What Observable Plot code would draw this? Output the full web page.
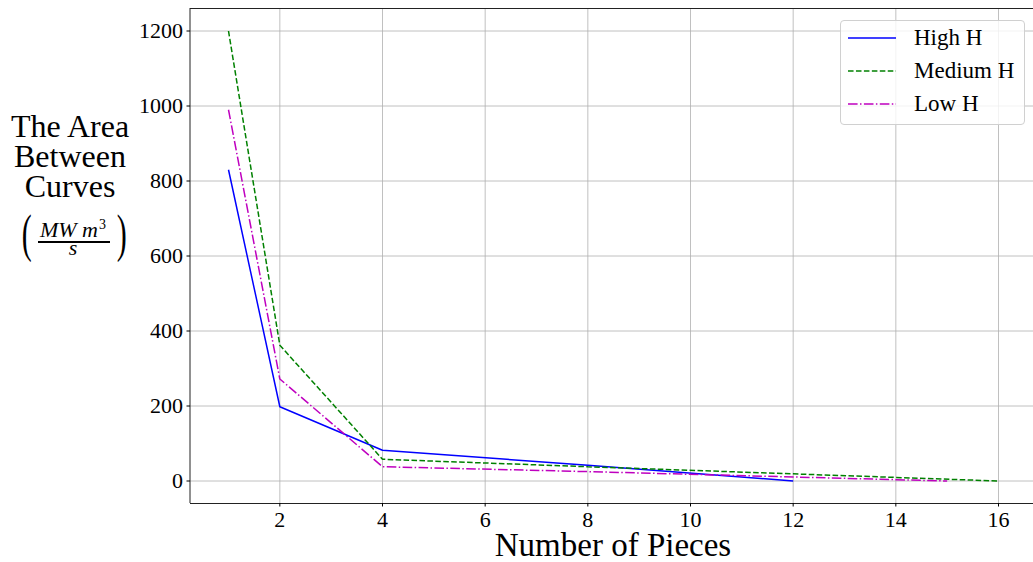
<!DOCTYPE html>
<html>
<head>
<meta charset="utf-8">
<script src="https://cdn.jsdelivr.net/npm/d3@7"></script>
<script src="https://cdn.jsdelivr.net/npm/@observablehq/plot@0.6"></script>
<style>
  html, body { margin: 0; padding: 0; background: white; }
  #wrap { position: relative; width: 1033px; height: 562px; overflow: hidden; font-family: "Liberation Serif", "DejaVu Serif", serif; color: black; }
  #ylab { position: absolute; left: 0; top: 111px; width: 140px; text-align: center; font-size: 32px; line-height: 30px; }
  .abs { position: absolute; white-space: nowrap; }
  .fr { font-style: italic; font-size: 22px; line-height: 22px; text-align: center; width: 146px; left: 0; }
  .paren { font-size: 40px; line-height: 40px; top: 215px; transform-origin: 50% 23.9px; transform: scale(0.75, 1.33); }
  #bar { left: 38px; width: 72px; top: 240.5px; height: 2.5px; background: black; }
  #legend { position: absolute; left: 840px; top: 20px; width: 185px; height: 105px; box-sizing: border-box; border: 1px solid #d0d0d0; border-radius: 4px; background: rgba(255,255,255,0.8); font-size: 23px; }
  .row { position: absolute; left: 0; height: 33px; display: flex; align-items: center; }
  .row svg { margin-left: 7px; }
  .row span { margin-left: 18px; }
  #xlab { position: absolute; left: 190px; width: 846px; top: 533px; text-align: center; font-size: 33px; line-height: 24px; }
</style>
</head>
<body>
<div id="wrap"></div>
<script>
const seriesNames = ["High H", "Medium H", "Low H"];
const highX = [1, 2, 4, 8, 12];
const highY = [830, 198, 82, 42, 0];
const mediumX = [1, 2, 4, 8, 16];
const mediumY = [1200, 362, 58, 38, 0];
const lowX = [1, 2, 4, 8, 15];
const lowY = [990, 272, 38, 25, 0];
const xTicks = [2, 4, 6, 8, 10, 12, 14, 16];
const yTicks = [0, 200, 400, 600, 800, 1000, 1200];
const colors = ["#0000ff", "#008000", "#bf00bf"];
const dashes = ["none", "5.55,2.4", "9.6,2.4,1.5,2.4"];

const toRows = (xs, ys) => xs.map((x, i) => ({x, y: ys[i]}));
const seriesData = [toRows(highX, highY), toRows(mediumX, mediumY), toRows(lowX, lowY)];

const chart = Plot.plot({
  width: 1033,
  height: 562,
  marginLeft: 190,
  marginRight: 0,
  marginTop: 8,
  marginBottom: 59,
  style: { fontFamily: "'Liberation Serif', serif", fontSize: "22px", color: "black", background: "white" },
  x: { domain: [0.25, 16.75], range: [189.5, 1036.5] },
  y: { domain: [-60, 1260], range: [503, 8] },
  marks: [
    Plot.gridX(xTicks, { stroke: "#b0b0b0", strokeOpacity: 1, strokeWidth: 0.8 }),
    Plot.gridY(yTicks, { stroke: "#b0b0b0", strokeOpacity: 1, strokeWidth: 0.8 }),
    ...seriesData.map((d, i) => Plot.line(d, {
      x: "x", y: "y", stroke: colors[i], strokeWidth: 1.5,
      strokeDasharray: dashes[i], strokeLinejoin: "miter", strokeLinecap: "butt"
    })),
    Plot.ruleX([0.25], { stroke: "#222", strokeWidth: 1 }),
    Plot.ruleY([-60], { stroke: "#222", strokeWidth: 1 }),
    Plot.ruleY([1260], { stroke: "#222", strokeWidth: 1 }),
    Plot.axisX(xTicks, { tickSize: 3.5, tickPadding: 4, fontSize: 22, label: null, stroke: "black", tickFormat: d => String(d) }),
    Plot.axisY(yTicks, { tickSize: 3.5, tickPadding: 4, fontSize: 22, label: null, stroke: "black", tickFormat: d => String(d) })
  ]
});

const wrap = document.getElementById("wrap");
wrap.appendChild(chart);

const ylab = document.createElement("div");
ylab.id = "ylab";
ylab.innerHTML = 'The Area<br>Between<br>Curves';
wrap.appendChild(ylab);

function addAbs(html, cls, style) {
  const el = document.createElement("div");
  el.className = "abs " + cls;
  el.innerHTML = html;
  Object.assign(el.style, style || {});
  wrap.appendChild(el);
  return el;
}
addAbs('MW m<span style="font-style:normal;font-size:14px;position:relative;top:-8px;margin-left:1px">3</span>', "fr", { top: "218.5px" });
addAbs('s', "fr", { top: "236.5px" });
const bar = document.createElement("div");
bar.id = "bar"; bar.className = "abs";
wrap.appendChild(bar);
addAbs('(', "paren", { left: "20px" });
addAbs(')', "paren", { left: "115px" });

const xlab = document.createElement("div");
xlab.id = "xlab";
xlab.textContent = "Number of Pieces";
wrap.appendChild(xlab);

const legend = document.createElement("div");
legend.id = "legend";
seriesNames.forEach((name, i) => {
  const row = document.createElement("div");
  row.className = "row";
  row.style.top = (0.5 + i * 33) + "px";
  row.innerHTML = `<svg width="48" height="6"><line x1="0" y1="3" x2="48" y2="3" stroke="${colors[i]}" stroke-width="1.5" stroke-dasharray="${dashes[i]}"/></svg><span>${name}</span>`;
  legend.appendChild(row);
});
wrap.appendChild(legend);
</script>
</body>
</html>
